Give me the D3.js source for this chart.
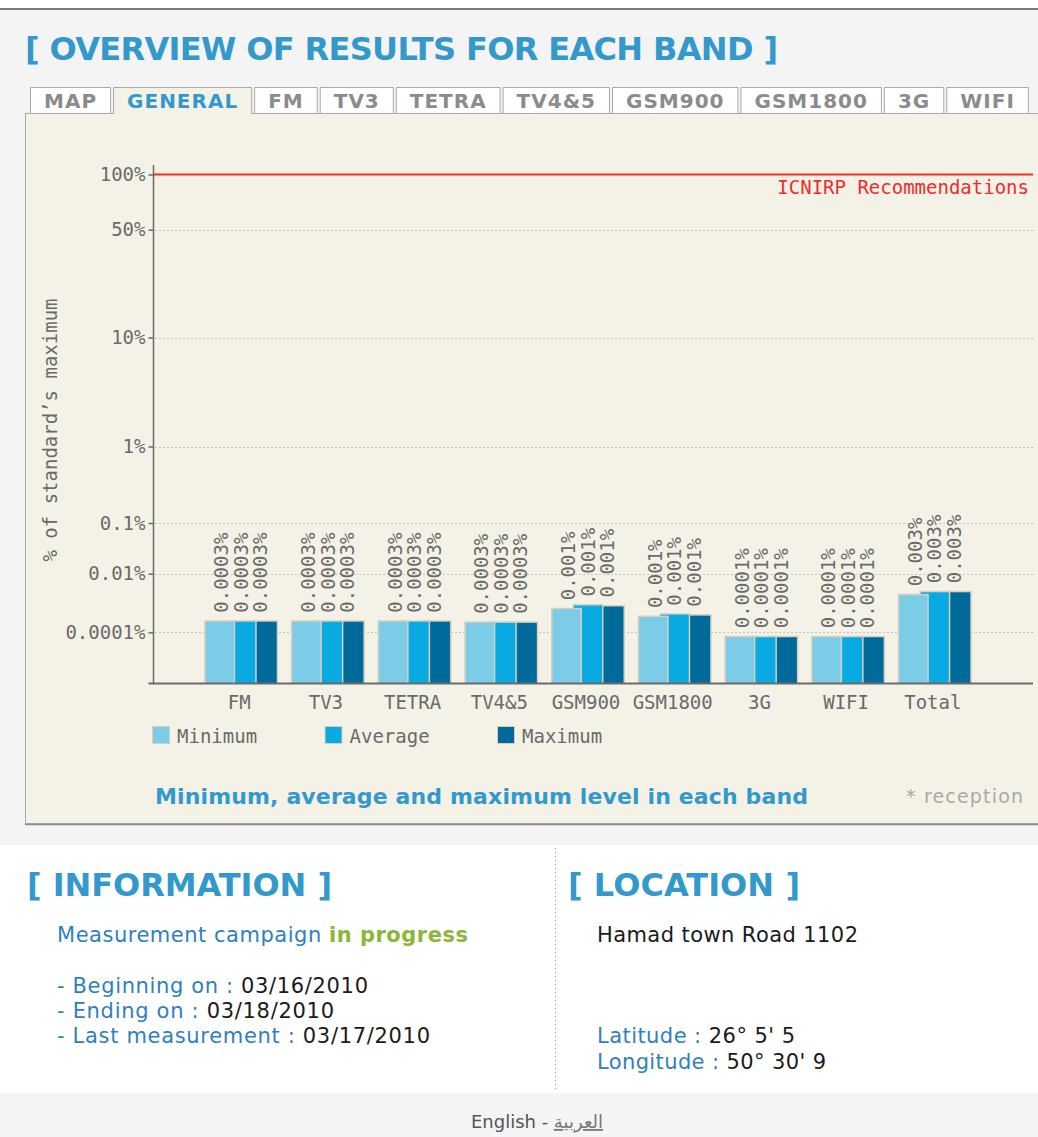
<!DOCTYPE html>
<html>
<head>
<meta charset="utf-8">
<script src="https://cdn.jsdelivr.net/npm/d3@7"></script>
<style>
    body { margin: 0; background: #f4f4f4; }
    svg { display: block; }
</style>
</head>
<body>
<div id="page"></div>
<script>
// band results, % of the standard's maximum
var bands = ['FM', 'TV3', 'TETRA', 'TV4&5', 'GSM900', 'GSM1800', '3G', 'WIFI', 'Total'];
var minimum = [0.00023, 0.00023, 0.00023, 0.00021, 0.00061, 0.00033, 0.00008, 0.00008, 0.00183];
var average = [0.00023, 0.00023, 0.00023, 0.00021, 0.00082, 0.00040, 0.00008, 0.00008, 0.00232];
var maximum = [0.00023, 0.00023, 0.00023, 0.00021, 0.00076, 0.00037, 0.00008, 0.00008, 0.00232];
// rounded level printed above the bars of each band
var printedLevel = [0.0003, 0.0003, 0.0003, 0.0003, 0.001, 0.001, 0.0001, 0.0001, 0.003];
var seriesNames = ['Minimum', 'Average', 'Maximum'];
var seriesColors = ['#7ccbe7', '#09a9e1', '#006b9a'];
var yTickValues = [100, 50, 10, 1, 0.1, 0.01, 0.0001];
var yTickLabels = ['100%', '50%', '10%', '1%', '0.1%', '0.01%', '0.0001%'];
var limitValue = 100;
var tabs = ['MAP', 'GENERAL', 'FM', 'TV3', 'TETRA', 'TV4&5', 'GSM900', 'GSM1800', '3G', 'WIFI'];
var activeTab = 'GENERAL';

var W = 1038, H = 1137;
var blue = '#3399cc', mono = '"DejaVu Sans Mono", monospace', sans = '"DejaVu Sans", Verdana, sans-serif';

var svg = d3.select('#page').append('svg').attr('width', W).attr('height', H);

// page background pieces
svg.append('rect').attr('width', W).attr('height', 8).attr('fill', '#fff');
svg.append('rect').attr('y', 8).attr('width', W).attr('height', 2).attr('fill', '#7b7b7b');
svg.append('rect').attr('y', 845).attr('width', W).attr('height', 248).attr('fill', '#fff');

svg.append('text')
    .attr('x', 25).attr('y', 60)
    .attr('textLength', 753).attr('lengthAdjust', 'spacing')
    .style('font', 'bold 32px ' + sans).style('fill', blue)
    .text('[ OVERVIEW OF RESULTS FOR EACH BAND ]');

// chart panel
var panelBg = '#f4f2e6';
svg.append('rect')
    .attr('x', 25.5).attr('y', 113.5).attr('width', 1030).attr('height', 710)
    .attr('fill', panelBg).attr('stroke', '#a9a9a9');
svg.append('line')
    .attr('x1', 25).attr('x2', W).attr('y1', 824.5).attr('y2', 824.5)
    .attr('stroke', '#8d8d8d').attr('stroke-width', 1.5);

// tabs
var tabG = svg.append('g').attr('class', 'tabs');
var tabX = 30;
tabs.forEach(function (name) {
    var active = name === activeTab;
    var g = tabG.append('g');
    var rect = g.append('path');
    var label = g.append('text')
        .attr('y', 108)
        .style('font', 'bold 20px ' + sans)
        .style('letter-spacing', '1px')
        .style('fill', active ? blue : '#8b8b8b')
        .text(name);
    var w = label.node().getComputedTextLength() + 28;
    label.attr('x', tabX + 14);
    var x0 = tabX + 0.5, x1 = tabX + w - 0.5;
    if (active) {
        rect.attr('d', 'M' + x0 + ',114 V87.5 H' + x1 + ' V114')
            .attr('fill', panelBg).attr('stroke', '#a9a9a9');
    } else {
        rect.attr('d', 'M' + x0 + ',113.5 V87.5 H' + x1 + ' V113.5 Z')
            .attr('fill', '#fff').attr('stroke', '#a9a9a9');
    }
    tabX += w + 2;
});

// scales: log-like axis with uneven spacing between the labelled levels
var baseValue = 0.00001;
var y = d3.scaleLinear()
    .domain([baseValue].concat(yTickValues.slice().reverse()).map(Math.log10))
    .range([683.5, 632.3, 573.7, 523, 446.5, 337.5, 229.7, 174.5]);
function yv(v) { return y(Math.log10(v)); }

var axisX = 153.5, plotRight = 1033, baseY = 683.5;
var x = d3.scalePoint().domain(bands).range([241.2, 934.8]);

var chart = svg.append('g').attr('class', 'chart');

// gridlines
chart.selectAll('.grid')
    .data(yTickValues.filter(function (d) { return d !== limitValue; }))
    .enter().append('line')
    .attr('class', 'grid')
    .attr('x1', axisX + 2).attr('x2', plotRight)
    .attr('y1', function (d) { return Math.round(yv(d)) + 0.5; })
    .attr('y2', function (d) { return Math.round(yv(d)) + 0.5; })
    .attr('stroke', '#9a9a9a').attr('stroke-dasharray', '1,3');

// y axis
var yAxis = d3.axisLeft(y)
    .tickValues(yTickValues.map(Math.log10))
    .tickFormat(function (d, i) { return yTickLabels[i]; })
    .tickSize(5).tickSizeOuter(0).tickPadding(3);
var yAxisG = chart.append('g').attr('transform', 'translate(' + axisX + ',0)').call(yAxis);
yAxisG.select('.domain').remove();
yAxisG.selectAll('line').attr('stroke', '#6a6a6a').attr('stroke-width', 1.5);
yAxisG.selectAll('text').style('font', '19px ' + mono).style('fill', '#6a6a6a');
chart.append('line')
    .attr('x1', axisX).attr('x2', axisX).attr('y1', 165).attr('y2', baseY + 1)
    .attr('stroke', '#6a6a6a').attr('stroke-width', 1.5);

chart.append('text')
    .attr('transform', 'translate(50,430) rotate(-90)')
    .attr('text-anchor', 'middle').attr('dy', '0.35em')
    .style('font', '19px ' + mono).style('fill', '#6a6a6a')
    .text('% of standard\u2019s maximum');

// limit line
chart.append('line')
    .attr('x1', axisX).attr('x2', plotRight)
    .attr('y1', yv(limitValue)).attr('y2', yv(limitValue))
    .attr('stroke', '#f42a2a').attr('stroke-width', 2);
chart.append('text')
    .attr('x', 1029).attr('y', 194).attr('text-anchor', 'end')
    .style('font', '19px ' + mono).style('fill', '#f42a2a')
    .text('ICNIRP Recommendations');

// bars: drawn max first so that min sits on top
var barW = 28, barStep = 21.5;
var series = [minimum, average, maximum];
var barData = [];
bands.forEach(function (b, i) {
    [2, 1, 0].forEach(function (j) {
        barData.push({band: b, s: j, value: series[j][i]});
    });
});
function barX(d) { return x(d.band) - (barW + 2 * barStep) / 2 + d.s * barStep; }

var bars = chart.selectAll('.bar').data(barData).enter().append('g').attr('class', 'bar');
bars.append('rect')
    .attr('x', function (d) { return barX(d) - 1.5; })
    .attr('y', function (d) { return yv(d.value) - 1.5; })
    .attr('width', barW + 3)
    .attr('height', function (d) { return baseY - yv(d.value) + 1.5; })
    .attr('fill', '#d6d0c0');
bars.append('rect')
    .attr('x', barX)
    .attr('y', function (d) { return yv(d.value); })
    .attr('width', barW)
    .attr('height', function (d) { return baseY - yv(d.value); })
    .attr('fill', function (d) { return seriesColors[d.s]; });

bars.append('text')
    .attr('transform', function (d) {
        return 'translate(' + (x(d.band) + (d.s - 1) * 19.5) + ',' + (yv(d.value) - 9) + ') rotate(-90)';
    })
    .attr('dy', '0.35em')
    .style('font', '19px ' + mono).style('fill', '#6a6a6a')
    .text(function (d) { return printedLevel[bands.indexOf(d.band)] + '%'; });

// x baseline and labels
chart.append('line')
    .attr('x1', axisX - 5).attr('x2', plotRight).attr('y1', baseY).attr('y2', baseY)
    .attr('stroke', '#6a6a6a').attr('stroke-width', 2);
chart.selectAll('.xlabel').data(bands).enter().append('text')
    .attr('class', 'xlabel')
    .attr('x', function (d) { return x(d) - 2; })
    .attr('y', 709)
    .attr('text-anchor', 'middle')
    .style('font', '19px ' + mono).style('fill', '#6a6a6a')
    .text(function (d) { return d; });

// legend
var legend = chart.selectAll('.legend').data(seriesNames).enter().append('g')
    .attr('class', 'legend')
    .attr('transform', function (d, i) { return 'translate(' + (153 + i * 172.5) + ',727)'; });
legend.append('rect').attr('x', -1).attr('y', -1).attr('width', 18).attr('height', 18).attr('fill', '#d6d0c0');
legend.append('rect').attr('width', 16).attr('height', 16)
    .attr('fill', function (d, i) { return seriesColors[i]; });
legend.append('text').attr('x', 24).attr('y', 16)
    .style('font', '19px ' + mono).style('fill', '#6a6a6a')
    .text(function (d) { return d; });

svg.append('text')
    .attr('x', 155).attr('y', 804)
    .attr('textLength', 653).attr('lengthAdjust', 'spacing')
    .style('font', 'bold 22px ' + sans).style('fill', blue)
    .text('Minimum, average and maximum level in each band');
svg.append('text')
    .attr('x', 906).attr('y', 803)
    .attr('textLength', 117).attr('lengthAdjust', 'spacing')
    .style('font', '19px ' + sans).style('fill', '#a9a9a9')
    .text('* reception');

// information and location
svg.append('line')
    .attr('x1', 555.5).attr('x2', 555.5).attr('y1', 848).attr('y2', 1090)
    .attr('stroke', '#999').attr('stroke-dasharray', '1,3');

function heading(txt, xPos, len) {
    svg.append('text')
        .attr('x', xPos).attr('y', 896)
        .attr('textLength', len).attr('lengthAdjust', 'spacing')
        .style('font', 'bold 32px ' + sans).style('fill', blue)
        .text(txt);
}
heading('[ INFORMATION ]', 27, 305);
heading('[ LOCATION ]', 568, 232);

var infoBlue = '#2f80bf';
function line(xPos, yPos, len, parts) {
    var t = svg.append('text')
        .attr('x', xPos).attr('y', yPos)
        .attr('textLength', len).attr('lengthAdjust', 'spacing')
        .style('font', '21px ' + sans);
    parts.forEach(function (p) {
        t.append('tspan').style('fill', p[1]).style('font-weight', p[2] || 'normal').text(p[0]);
    });
}
line(57, 942, 411, [['Measurement campaign ', infoBlue], ['in progress', '#8cb63a', 'bold']]);
line(57, 993, 311, [['- Beginning on : ', infoBlue], ['03/16/2010', '#1a1a1a']]);
line(57, 1018, 277, [['- Ending on : ', infoBlue], ['03/18/2010', '#1a1a1a']]);
line(57, 1043, 373, [['- Last measurement : ', infoBlue], ['03/17/2010', '#1a1a1a']]);
line(597, 942, 261, [['Hamad town Road 1102', '#1a1a1a']]);
line(597, 1043, 198, [['Latitude : ', infoBlue], ['26\u00b0 5\' 5', '#1a1a1a']]);
line(597, 1069, 229, [['Longitude : ', infoBlue], ['50\u00b0 30\' 9', '#1a1a1a']]);

// footer
var foot = svg.append('text')
    .attr('x', 537).attr('y', 1128).attr('text-anchor', 'middle')
    .style('font', '18px ' + sans);
foot.append('tspan').style('fill', '#555').text('English - ');
foot.append('tspan').style('fill', '#777').style('text-decoration', 'underline').text('\u0627\u0644\u0639\u0631\u0628\u064a\u0629');
</script>
</body>
</html>
